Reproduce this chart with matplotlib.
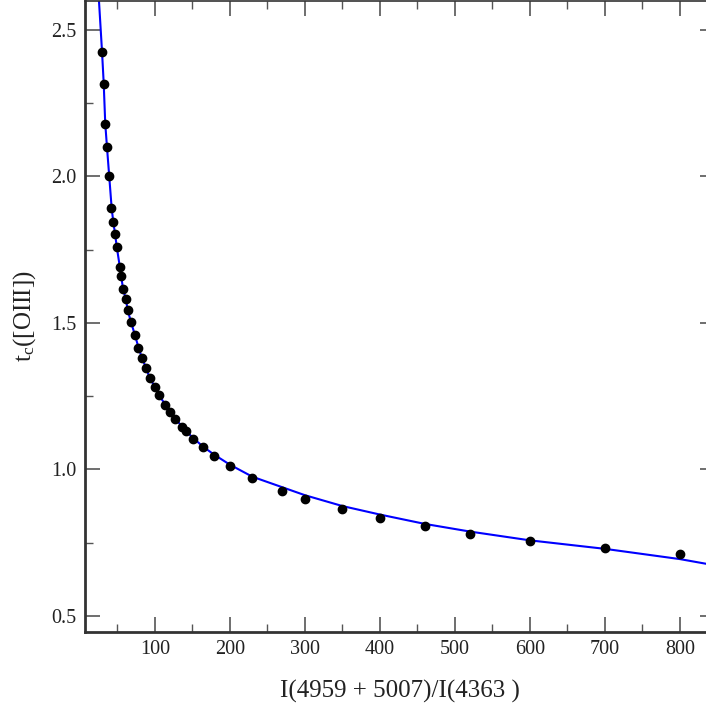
import matplotlib
matplotlib.use("Agg")
import matplotlib.pyplot as plt
from matplotlib.ticker import MultipleLocator

plt.rcParams['font.family'] = ['Liberation Serif', 'DejaVu Serif']
plt.rcParams['mathtext.fontset'] = 'custom'
plt.rcParams['mathtext.rm'] = 'Liberation Serif'
plt.rcParams['mathtext.it'] = 'Liberation Serif:italic'

# Measured points: line ratio vs t_e([OIII])
ratio = [29, 32, 34, 36, 39, 42, 44, 47, 49, 53, 55, 57, 61, 64, 68, 74, 78,
         83, 88, 93, 100, 106, 114, 120, 127, 136, 141, 151, 164, 179, 200,
         230, 270, 300, 350, 400, 460, 520, 600, 700, 800]
te = [2.425, 2.315, 2.177, 2.100, 2.001, 1.892, 1.844, 1.803, 1.760, 1.692,
      1.661, 1.617, 1.582, 1.544, 1.503, 1.457, 1.416, 1.379, 1.347, 1.312,
      1.282, 1.253, 1.221, 1.196, 1.171, 1.146, 1.132, 1.104, 1.076, 1.045,
      1.012, 0.972, 0.927, 0.900, 0.864, 0.834, 0.806, 0.781, 0.757, 0.731,
      0.711]

# Fitted curve
fit_x = [25.3, 29.3, 31.6, 33.7, 36, 39, 42.3, 44.4, 47, 49, 52, 55, 57.3, 61,
         64, 68, 73.7, 78, 82.7, 88, 93.3, 100, 106, 114, 120, 127, 136, 141,
         151, 164, 178, 200, 230, 270, 300, 350, 400, 460, 520, 600, 700, 800,
         835, 847]
fit_y = [2.60, 2.43, 2.32, 2.18, 2.10, 2.00, 1.89, 1.845, 1.80, 1.76, 1.71,
         1.66, 1.617, 1.582, 1.54, 1.503, 1.455, 1.416, 1.38, 1.347, 1.31,
         1.282, 1.25, 1.221, 1.197, 1.172, 1.148, 1.132, 1.107, 1.078, 1.052,
         1.016, 0.975, 0.939, 0.912, 0.875, 0.846, 0.814, 0.788, 0.758, 0.729,
         0.694, 0.678, 0.673]

xticks = [100, 200, 300, 400, 500, 600, 700, 800]
yticks = [0.5, 1.0, 1.5, 2.0, 2.5]

fig = plt.figure(figsize=(7.06, 7.06), dpi=100)
ax = fig.add_axes([85/706, (706-631.5)/706, 630/706, 631/706])

ax.plot(fit_x, fit_y, color='#0000ff', lw=1.5, zorder=2)
ax.plot(ratio, te, 'o', color='black', ms=6, zorder=3)

ax.set_xlim(6.7, 846.7)
ax.set_ylim(0.447, 2.6)
ax.set_xticks(xticks)
ax.set_xticklabels([str(v) for v in xticks])
ax.set_yticks(yticks)
ax.set_yticklabels([f"{v:.1f}" for v in yticks])
ax.xaxis.set_minor_locator(MultipleLocator(50))
ax.yaxis.set_minor_locator(MultipleLocator(0.25))

sc = '#333333'
for s in ax.spines.values():
    s.set_color(sc)
ax.spines['left'].set_linewidth(2)
ax.spines['bottom'].set_linewidth(2)
ax.spines['top'].set_linewidth(1.2)
ax.spines['right'].set_linewidth(1.2)

ax.tick_params(which='both', direction='in', top=True, right=True,
               color='#555555', labelcolor='#222222')
ax.tick_params(which='major', length=10.8, width=1.2, labelsize=14.5, pad=6)
ax.tick_params(which='minor', length=5.8, width=1.0)

ax.set_xlabel('I(4959 + 5007)/I(4363 )', fontsize=18, color='#222222', labelpad=15)
ax.set_ylabel(r't$_{\mathrm{c}}$([OIII])', fontsize=18, color='#222222', labelpad=10)

fig.savefig('out.png', dpi=100)
